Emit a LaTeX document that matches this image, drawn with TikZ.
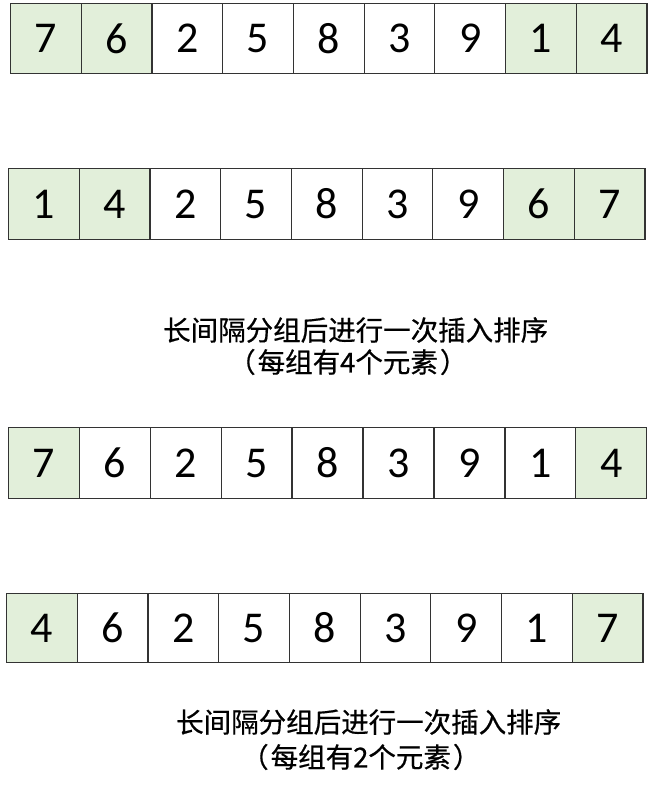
\documentclass[tikz,border=0pt]{standalone}
\usepackage{fontspec}
\setmainfont{Carlito}
\newfontfamily\cjk[FakeBold=0.6]{Noto Sans CJK SC}
\definecolor{cellgreen}{RGB}{226,239,218}
\begin{document}
\begin{tikzpicture}[x=1pt,y=-1pt,
  cell/.style={draw=black!80, line width=1.2pt, minimum width=70.7pt, inner sep=0pt,
    font=\fontsize{44}{44}\selectfont, anchor=north west},
  cg/.style={fill=cellgreen},
  cw/.style={fill=white},
  caption/.style={anchor=west, inner sep=0pt, font=\cjk\fontsize{27.5}{30}\selectfont}]
\useasboundingbox (0,0) rectangle (656,787);
% row 1
\foreach \v/\s [count=\i] in {7/cg,6/cg,2/cw,5/cw,8/cw,3/cw,9/cw,1/cg,4/cg}
  \node[cell,\s,minimum height=70pt] (a\i) at ({10+(\i-1)*70.7},3) {\v};
% row 2
\foreach \v/\s [count=\i] in {1/cg,4/cg,2/cw,5/cw,8/cw,3/cw,9/cw,6/cg,7/cg}
  \node[cell,\s,minimum height=71pt] (b\i) at ({8+(\i-1)*70.7},168) {\v};
% caption 1
\node[caption] (t1) at (163,330) {长间隔分组后进行一次插入排序};
\node[caption] (t2) at (228,362) {（\kern2pt 每组有4个元素\kern2pt ）};
% row 3
\foreach \v/\s [count=\i] in {7/cg,6/cw,2/cw,5/cw,8/cw,3/cw,9/cw,1/cw,4/cg}
  \node[cell,\s,minimum height=71pt] (c\i) at ({8+(\i-1)*70.9},427) {\v};
% row 4
\foreach \v/\s [count=\i] in {4/cg,6/cw,2/cw,5/cw,8/cw,3/cw,9/cw,1/cw,7/cg}
  \node[cell,\s,minimum height=69pt] (d\i) at ({6+(\i-1)*70.7},593) {\v};
% caption 2
\node[caption] (t3) at (176,722) {长间隔分组后进行一次插入排序};
\node[caption] (t4) at (241,757) {（\kern2pt 每组有2个元素\kern2pt ）};
\end{tikzpicture}
\end{document}
